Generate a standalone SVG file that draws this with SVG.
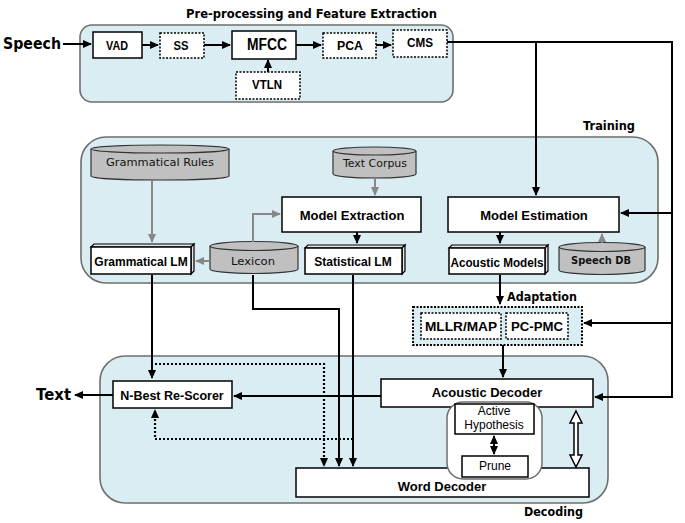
<svg xmlns="http://www.w3.org/2000/svg" width="685" height="523" viewBox="0 0 685 523">
<style>
.panel{fill:#d9edf3;stroke:#6e6e6e;stroke-width:1.6}
.box{fill:#fff;stroke:#000;stroke-width:1.5}
.dbox{fill:#fff;stroke:#000;stroke-width:1.5;stroke-dasharray:2,1.5}
.cyl{fill:#c0c0c0;stroke:#333;stroke-width:1.2}
.face{fill:#e4e4e4;stroke:#000;stroke-width:1.2}
.t{font-family:"Liberation Sans",Arial,sans-serif;font-weight:bold;fill:#000;text-anchor:middle}
.n{font-family:"Liberation Sans",Arial,sans-serif;fill:#000;text-anchor:middle}
.c{font-family:"DejaVu Sans",Verdana,sans-serif;fill:#111;text-anchor:middle}
.h{font-family:"DejaVu Sans",Verdana,sans-serif;font-weight:bold;fill:#000}
.ln{fill:none;stroke:#000;stroke-width:2}
.gl{fill:none;stroke:#888;stroke-width:2}
.dl{fill:none;stroke:#000;stroke-width:2.2;stroke-dasharray:2,2}
</style>
<defs>
<marker id="a" markerUnits="userSpaceOnUse" markerWidth="9" markerHeight="8" refX="8" refY="4" orient="auto"><path d="M0,0 L9,4 L0,8 z" fill="#000"/></marker>
<marker id="g" markerUnits="userSpaceOnUse" markerWidth="9" markerHeight="8" refX="8" refY="4" orient="auto"><path d="M0,0 L9,4 L0,8 z" fill="#888"/></marker>
</defs>

<!-- panels -->
<g id="preprocessing-panel">
<rect class="panel" x="80" y="25" width="373" height="77" rx="12"/>
<text class="h" x="186" y="18" font-size="11.5" textLength="251" lengthAdjust="spacingAndGlyphs">Pre-processing and Feature Extraction</text>
</g>
<g id="training-panel">
<rect class="panel" x="81" y="137" width="577" height="146" rx="25"/>
<text class="h" x="583" y="130" font-size="11.5" textLength="52" lengthAdjust="spacingAndGlyphs">Training</text>
</g>
<g id="decoding-panel">
<rect class="panel" x="100" y="356" width="508" height="147" rx="25"/>
<text class="h" x="524" y="516" font-size="11.5" textLength="59" lengthAdjust="spacingAndGlyphs">Decoding</text>
</g>

<!-- labels -->
<g id="speech-label"><text class="h" x="3" y="49" font-size="15" textLength="58" lengthAdjust="spacingAndGlyphs">Speech</text></g>
<g id="text-label"><text class="h" x="36" y="400" font-size="15" textLength="35" lengthAdjust="spacingAndGlyphs">Text</text></g>

<!-- preprocessing nodes -->
<g id="vad"><rect class="box" x="93" y="32" width="49" height="26"/><text class="t" x="117" y="50" font-size="12" textLength="22" lengthAdjust="spacingAndGlyphs">VAD</text></g>
<g id="ss"><rect class="dbox" x="160" y="33" width="44" height="25"/><text class="t" x="181" y="50" font-size="12" textLength="15" lengthAdjust="spacingAndGlyphs">SS</text></g>
<g id="mfcc"><rect class="box" x="232" y="31" width="64" height="28"/><text class="t" x="267" y="50" font-size="16" textLength="40" lengthAdjust="spacingAndGlyphs">MFCC</text></g>
<g id="vtln"><rect class="dbox" x="236" y="72" width="64" height="27"/><text class="t" x="267" y="89" font-size="12" textLength="30" lengthAdjust="spacingAndGlyphs">VTLN</text></g>
<g id="pca"><rect class="dbox" x="323" y="33" width="53" height="25"/><text class="t" x="350" y="50" font-size="12" textLength="26" lengthAdjust="spacingAndGlyphs">PCA</text></g>
<g id="cms"><rect class="dbox" x="393" y="30" width="54" height="27"/><text class="t" x="420" y="47" font-size="12" textLength="26" lengthAdjust="spacingAndGlyphs">CMS</text></g>

<!-- training nodes -->
<g id="grammatical-rules">
<path class="cyl" d="M91,149 V176 A69,4 0 0 0 229,176 V149"/>
<ellipse class="cyl" cx="160" cy="149" rx="69" ry="4"/>
<text class="c" x="160" y="166" font-size="11" textLength="108" lengthAdjust="spacingAndGlyphs">Grammatical Rules</text>
</g>
<g id="text-corpus">
<path class="cyl" d="M333,151 V174 A41.5,4 0 0 0 416,174 V151"/>
<ellipse class="cyl" cx="374.5" cy="151" rx="41.5" ry="4"/>
<text class="c" x="375" y="167" font-size="11" textLength="64" lengthAdjust="spacingAndGlyphs">Text Corpus</text>
</g>
<g id="model-extraction"><rect class="box" x="282" y="197" width="139" height="35"/><text class="t" x="352" y="220" font-size="13">Model Extraction</text></g>
<g id="model-estimation"><rect class="box" x="448" y="197" width="171" height="35"/><text class="t" x="534" y="220" font-size="13">Model Estimation</text></g>
<g id="grammatical-lm">
<polygon class="face" points="91,247 94,244 194,244 191,247"/>
<polygon class="face" points="191,247 194,244 194,271 191,274"/>
<rect class="box" x="91" y="247" width="100" height="27"/>
<text class="t" x="141" y="266" font-size="12">Grammatical LM</text>
</g>
<g id="lexicon">
<path class="cyl" d="M210,246 V269 A44,4.5 0 0 0 298,269 V246"/>
<ellipse class="cyl" cx="254" cy="246" rx="44" ry="4.5"/>
<text class="c" x="253" y="265" font-size="11" textLength="44" lengthAdjust="spacingAndGlyphs">Lexicon</text>
</g>
<g id="statistical-lm">
<polygon class="face" points="305,248 308,245 405,245 402,248"/>
<polygon class="face" points="402,248 405,245 405,271 402,274"/>
<rect class="box" x="305" y="248" width="97" height="26"/>
<text class="t" x="353" y="266" font-size="12">Statistical LM</text>
</g>
<g id="acoustic-models">
<polygon class="face" points="449,248 452,245 548,245 545,248"/>
<polygon class="face" points="545,248 548,245 548,271 545,274"/>
<rect class="box" x="449" y="248" width="96" height="26"/>
<text class="t" x="497" y="267" font-size="12.5" textLength="93" lengthAdjust="spacingAndGlyphs">Acoustic Models</text>
</g>
<g id="speech-db">
<path class="cyl" d="M559,247 V270 A43,4.5 0 0 0 645,270 V247"/>
<ellipse class="cyl" cx="602" cy="247" rx="43" ry="4.5"/>
<text class="c" x="601" y="264" font-size="11" font-weight="bold" textLength="60" lengthAdjust="spacingAndGlyphs">Speech DB</text>
</g>

<!-- adaptation -->
<g id="adaptation">
<rect x="413" y="307" width="169" height="38" fill="#d9edf3" stroke="#000" stroke-width="2" stroke-dasharray="2,1.5"/>
<text class="h" x="507" y="301" font-size="11.5" textLength="70" lengthAdjust="spacingAndGlyphs">Adaptation</text>
</g>
<g id="mllr-map"><rect class="dbox" x="421" y="313" width="80" height="26"/><text class="t" x="461" y="331" font-size="12.5" textLength="72" lengthAdjust="spacingAndGlyphs">MLLR/MAP</text></g>
<g id="pc-pmc"><rect class="dbox" x="506" y="313" width="62" height="26"/><text class="t" x="537" y="331" font-size="12.5" textLength="52" lengthAdjust="spacingAndGlyphs">PC-PMC</text></g>

<!-- decoding nodes -->
<g id="n-best-re-scorer"><rect class="box" x="113" y="381" width="119" height="27"/><text class="t" x="172" y="400" font-size="12.5">N-Best Re-Scorer</text></g>
<g id="word-decoder"><rect class="box" x="296" y="468" width="293" height="29"/><text class="t" x="442" y="491" font-size="13">Word Decoder</text></g>
<g id="acoustic-decoder"><rect class="box" x="381" y="379" width="212" height="28"/><text class="t" x="487" y="397" font-size="13">Acoustic Decoder</text></g>
<g id="search-group"><rect x="447" y="402" width="95" height="77" rx="16" fill="#fff" stroke="#6e6e6e" stroke-width="1.5"/></g>
<g id="active-hypothesis"><rect class="box" x="455" y="404" width="79" height="30" stroke-width="1.2"/><text class="n" x="494" y="415" font-size="12">Active</text><text class="n" x="494" y="429" font-size="12">Hypothesis</text></g>
<g id="prune"><rect class="box" x="462" y="456" width="66" height="21" stroke-width="1.2"/><text class="n" x="495" y="470" font-size="12">Prune</text></g>

<!-- connectors -->
<g id="connectors">
<path class="ln" d="M63,44 H91" marker-end="url(#a)"/>
<path class="ln" d="M142,45 H158" marker-end="url(#a)"/>
<path class="ln" d="M204,45 H230" marker-end="url(#a)"/>
<path class="ln" d="M296,45 H321" marker-end="url(#a)"/>
<path class="ln" d="M376,45 H391" marker-end="url(#a)"/>
<path class="ln" d="M268,72 V60" marker-end="url(#a)"/>
<path class="ln" d="M447,42 H672 V397 H595" marker-end="url(#a)"/>
<path class="ln" d="M536,42 V195" marker-end="url(#a)"/>
<path class="ln" d="M672,213 H621" marker-end="url(#a)"/>
<path class="ln" d="M672,323 H584" marker-end="url(#a)"/>
<path class="gl" d="M152,180 V242" marker-end="url(#g)"/>
<path class="gl" d="M210,261 H196" marker-end="url(#g)"/>
<path class="gl" d="M253,242 V214 H280" marker-end="url(#g)"/>
<path class="gl" d="M375,178 V195" marker-end="url(#g)"/>
<path class="gl" d="M602,243 V234" marker-end="url(#g)"/>
<path class="ln" d="M357,232 V243" marker-end="url(#a)"/>
<path class="ln" d="M500,232 V243" marker-end="url(#a)"/>
<path class="ln" d="M500,275 V304" marker-end="url(#a)"/>
<path class="ln" d="M503,345 V377" marker-end="url(#a)"/>
<path class="ln" d="M152,275 V378" marker-end="url(#a)"/>
<path class="ln" d="M253,275 V309 H339 V466" marker-end="url(#a)"/>
<path class="ln" d="M353,275 V466" marker-end="url(#a)"/>
<path class="dl" d="M155,364 H324 V466" marker-end="url(#a)"/>
<path class="dl" d="M353,439 H155 V410" marker-end="url(#a)"/>
<path class="ln" d="M381,396 H234" marker-end="url(#a)"/>
<path class="ln" d="M113,395 H75" marker-end="url(#a)"/>
<path class="ln" d="M494,445 V436" marker-end="url(#a)"/>
<path class="ln" d="M494,445 V454" marker-end="url(#a)"/>
<polygon points="576,411 582,423 578,423 578,455 582,455 576,467 570,455 574,455 574,423 570,423" fill="#fff" stroke="#000" stroke-width="1.5"/>
</g>
</svg>
